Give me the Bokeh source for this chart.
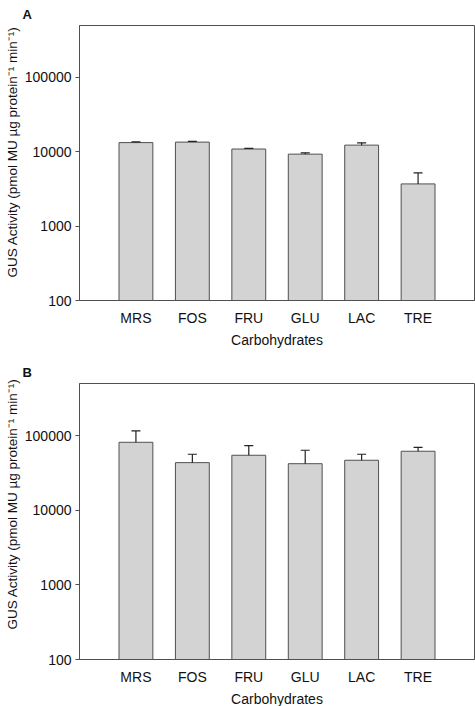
import numpy as np
from bokeh.plotting import figure
from bokeh.models import Range1d, FixedTicker, NumeralTickFormatter, Title
from bokeh.layouts import column
from bokeh.embed import file_html
from bokeh.resources import INLINE

carbs = ["MRS", "FOS", "FRU", "GLU", "LAC", "TRE"]
activity_a = [13300, 13500, 10900, 9300, 12300, 3700]
upper_a = [13600, 13800, 11100, 9700, 13200, 5200]
activity_b = [81500, 43500, 54600, 42100, 46800, 61800]
upper_b = [115700, 56300, 73500, 63700, 56300, 69800]
y_ticks = [100, 1000, 10000, 100000]
panel_letters = ["A", "B"]
y_title = "GUS Activity (pmol MU \u00b5g protein\u207b\u00b9 min\u207b\u00b9)"

FONT = "Liberation Sans"
LINE = "#505050"
Y_MIN, Y_MAX = 100, 500000


def make_panel(letter, vals, upper, top_border, frame_h, bottom_border,
               letter_standoff, ytitle_offset):
    xs = np.arange(1, len(carbs) + 1)
    p = figure(
        frame_width=395, frame_height=frame_h,
        x_range=Range1d(0, 7), y_range=Range1d(Y_MIN, Y_MAX),
        y_axis_type="log",
        output_backend="svg", toolbar_location=None,
        min_border_left=79, min_border_right=1,
        min_border_top=top_border, min_border_bottom=bottom_border,
    )
    p.vbar(x=xs, top=vals, bottom=Y_MIN, width=0.6,
           fill_color="#d3d3d3", line_color=LINE, line_width=1)
    p.segment(x0=xs, y0=vals, x1=xs, y1=upper, line_color="#222222", line_width=1.2)
    p.segment(x0=xs - 0.08, y0=upper, x1=xs + 0.08, y1=upper,
              line_color="#222222", line_width=1.2)

    p.xgrid.visible = False
    p.ygrid.visible = False
    p.outline_line_color = LINE
    p.outline_line_width = 1

    xa = p.xaxis[0]
    xa.ticker = FixedTicker(ticks=list(xs))
    xa.major_label_overrides = {int(x): c for x, c in zip(xs, carbs)}
    xa.major_tick_line_color = None
    xa.major_tick_out = 0
    xa.major_tick_in = 0
    xa.minor_tick_line_color = None
    xa.axis_line_color = LINE
    xa.axis_label = "Carbohydrates"
    xa.major_label_standoff = 9
    xa.axis_label_standoff = 3

    ya = p.yaxis[0]
    ya.ticker = FixedTicker(ticks=y_ticks, minor_ticks=[])
    ya.formatter = NumeralTickFormatter(format="0")
    ya.major_tick_out = 4
    ya.major_tick_in = 0
    ya.minor_tick_line_color = None
    ya.axis_line_color = LINE
    ya.major_tick_line_color = LINE
    ya.major_label_standoff = 4

    for ax in (xa, ya):
        ax.major_label_text_font = FONT
        ax.major_label_text_font_size = "14px"
        ax.major_label_text_color = "#111111"
        ax.axis_label_text_font = FONT
        ax.axis_label_text_font_size = "14px"
        ax.axis_label_text_font_style = "normal"
        ax.axis_label_text_color = "#111111"

    # panel letter
    p.title.text = letter
    p.title.align = "left"
    p.title.offset = -57
    p.title.standoff = letter_standoff
    p.title.text_font = FONT
    p.title.text_font_style = "bold"
    p.title.text_font_size = "13px"
    p.title.text_color = "#111111"
    p.title.text_line_height = 0.8

    # rotated y-axis title
    yt = Title(text=y_title, align="right", offset=ytitle_offset, standoff=3,
               text_font=FONT, text_font_size="13.5px", text_font_style="normal",
               text_color="#111111")
    p.add_layout(yt, "left")
    return p


pa = make_panel(panel_letters[0], activity_a, upper_a, 25, 275, 50, 7, 1)
pb = make_panel(panel_letters[1], activity_b, upper_b, 33, 276, 47, 8, -5)
layout = column(pa, pb, spacing=0)

open("out.html", "w").write(file_html(layout, INLINE))
